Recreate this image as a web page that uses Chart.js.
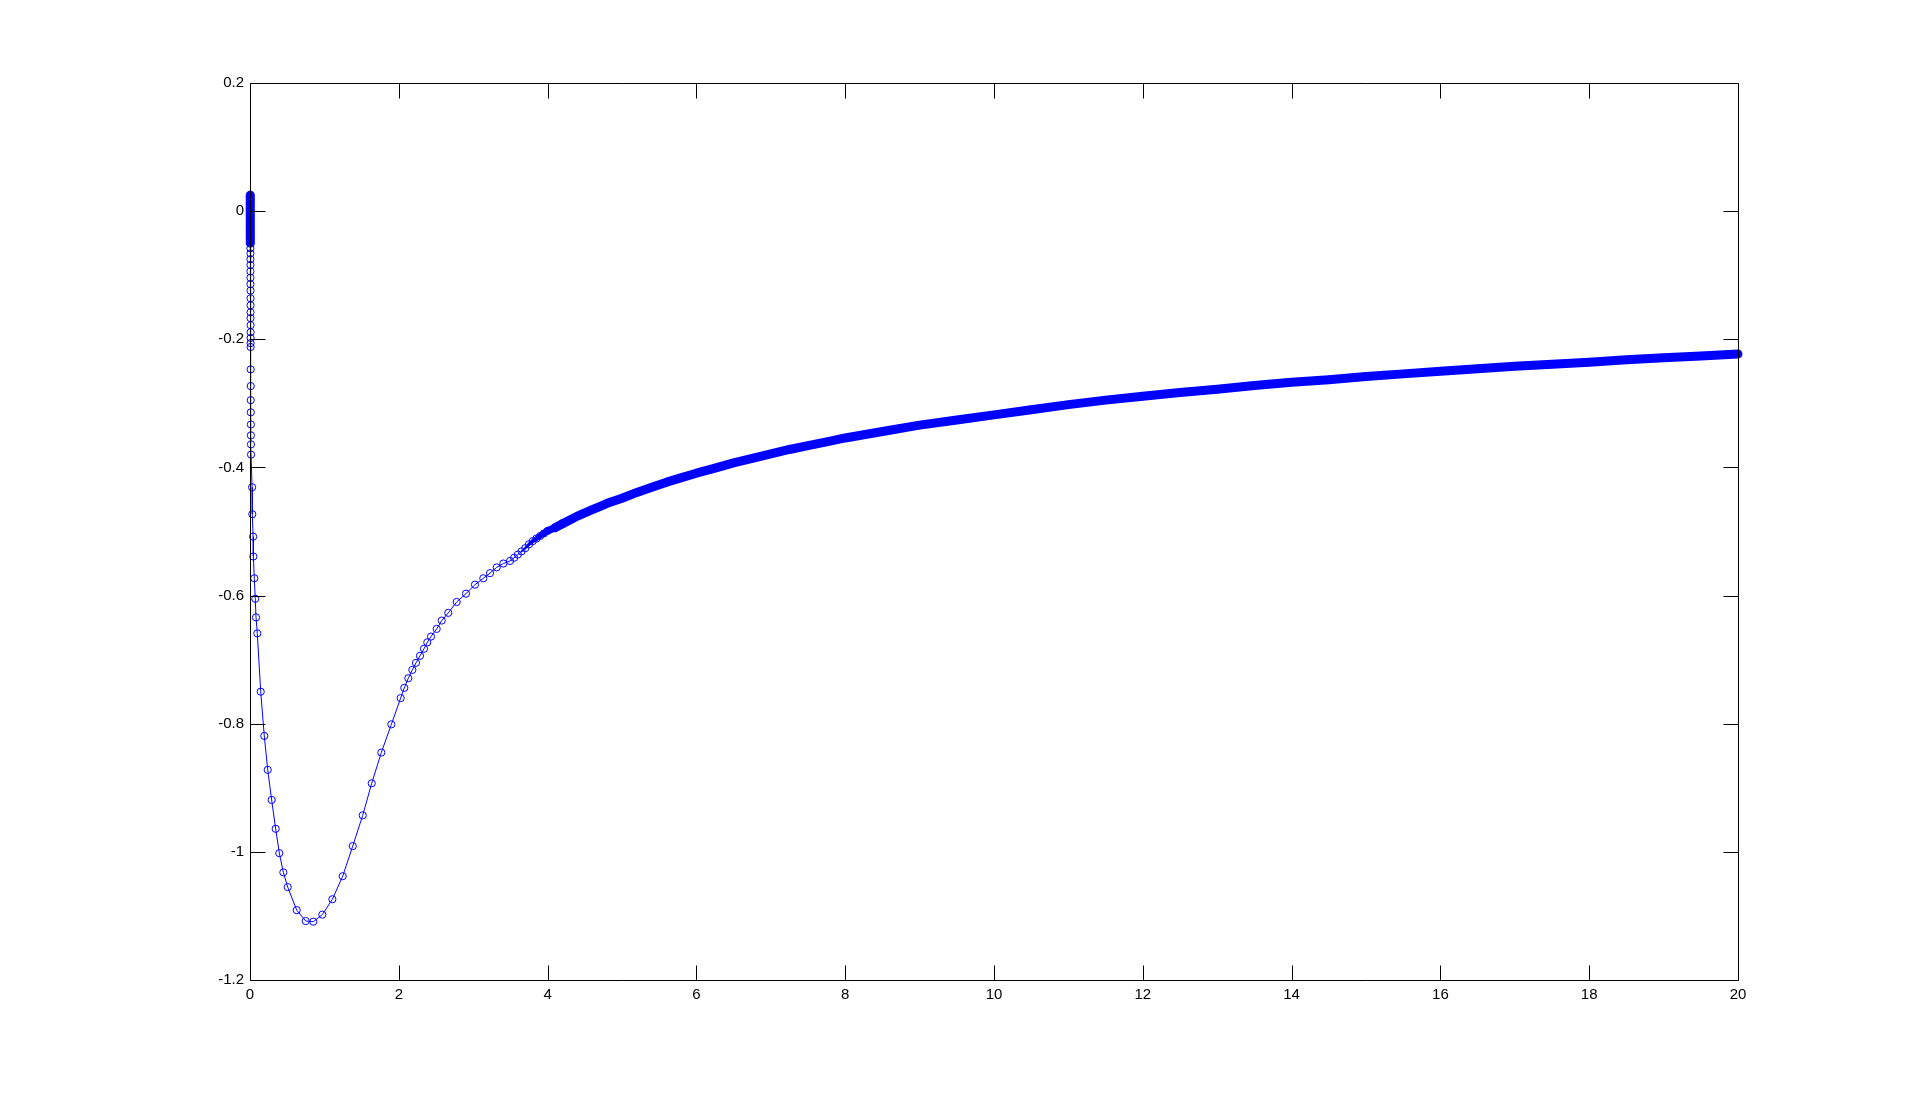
<!DOCTYPE html>
<html>
<head>
<meta charset="utf-8">
<script src="https://cdn.jsdelivr.net/npm/chart.js@4/dist/chart.umd.min.js"></script>
<style>
html,body{margin:0;padding:0;background:#fff;}
canvas{display:block;}
</style>
</head>
<body>
<canvas id="c" width="1920" height="1101"></canvas>
<script>
// Tick labels
const xTicks = [0, 2, 4, 6, 8, 10, 12, 14, 16, 18, 20];
const yTicks = [-1.2, -1, -0.8, -0.6, -0.4, -0.2, 0, 0.2];

// Near x = 0 (steep wall)
const xNear = [0.003,0.003,0.003,0.003,0.004,0.004,0.004,0.004,0.004,0.005,0.005,0.005,0.005,0.005,0.006,0.006,0.006,0.006,0.006,0.006,0.007,0.007,0.007,0.007,0.007,0.008,0.008,0.008,0.008,0.008,0.009,0.010,0.010,0.011,0.012,0.012,0.013,0.014,0.028,0.031,0.042,0.045,0.058,0.071,0.081,0.098];
const yNear = [0.025,0.018,0.012,0.006,0.000,-0.006,-0.012,-0.018,-0.024,-0.030,-0.036,-0.042,-0.050,-0.058,-0.066,-0.075,-0.084,-0.094,-0.104,-0.114,-0.124,-0.136,-0.147,-0.158,-0.167,-0.178,-0.189,-0.198,-0.206,-0.212,-0.247,-0.273,-0.295,-0.314,-0.333,-0.350,-0.364,-0.380,-0.431,-0.473,-0.508,-0.539,-0.573,-0.605,-0.634,-0.659];

// Potential well
const xWell = [0.144,0.192,0.238,0.291,0.345,0.394,0.448,0.507,0.628,0.749,0.851,0.972,1.107,1.246,1.381,1.515,1.636,1.765,1.900,2.025,2.074,2.128,2.182,2.231,2.285,2.339,2.383,2.433,2.509,2.577,2.665,2.778,2.903,3.024,3.136,3.226,3.316,3.405,3.495];
const yWell = [-0.750,-0.819,-0.872,-0.919,-0.964,-1.002,-1.032,-1.055,-1.091,-1.108,-1.109,-1.098,-1.074,-1.038,-0.991,-0.943,-0.893,-0.845,-0.801,-0.760,-0.744,-0.729,-0.716,-0.705,-0.694,-0.683,-0.673,-0.664,-0.652,-0.639,-0.627,-0.610,-0.597,-0.583,-0.573,-0.565,-0.556,-0.550,-0.546];

// Long tail
const xTail = [3.55,3.6,3.65,3.7,3.75,3.8,3.85,3.9,3.95,4.0,4.1,4.2,4.3,4.4,4.5,4.6,4.7,4.8,4.9,5.0,5.2,5.4,5.6,5.8,6.0,6.25,6.5,6.75,7.0,7.25,7.5,7.75,8.0,8.5,9.0,9.5,10.0,10.5,11.0,11.5,12.0,12.5,13.0,13.5,14.0,14.5,15.0,15.5,16.0,16.5,17.0,17.5,18.0,18.5,19.0,19.5,20.0];
const yTail = [-0.541,-0.536,-0.531,-0.526,-0.520,-0.515,-0.511,-0.507,-0.503,-0.499,-0.494,-0.488,-0.482,-0.476,-0.471,-0.466,-0.461,-0.456,-0.452,-0.448,-0.439,-0.431,-0.423,-0.416,-0.409,-0.401,-0.393,-0.386,-0.379,-0.372,-0.366,-0.360,-0.354,-0.344,-0.334,-0.326,-0.318,-0.310,-0.302,-0.295,-0.289,-0.283,-0.278,-0.272,-0.267,-0.263,-0.258,-0.254,-0.250,-0.246,-0.242,-0.239,-0.236,-0.232,-0.229,-0.226,-0.223];

const xs = xNear.concat(xWell, xTail);
const ys = yNear.concat(yWell, yTail);
const points = xs.map((x, i) => ({x: x, y: ys[i]}));

const BLUE = '#0000ff';
const FONT = {family: '"Liberation Sans", Arial, Helvetica, sans-serif', size: 15};

const boxPlugin = {
  id: 'matlabBox',
  afterDatasetsDraw(chart) {
    const {ctx, chartArea: a, scales} = chart;
    const L = Math.round(a.left) + 0.5, R = Math.round(a.right) + 0.5;
    const T = Math.round(a.top) + 0.5, B = Math.round(a.bottom) + 0.5;
    const tl = 15;
    ctx.save();
    ctx.strokeStyle = '#000';
    ctx.lineWidth = 1;
    ctx.beginPath();
    ctx.rect(L, T, R - L, B - T);
    xTicks.forEach(v => {
      const px = Math.round(scales.x.getPixelForValue(v)) + 0.5;
      ctx.moveTo(px, B); ctx.lineTo(px, B - tl);
      ctx.moveTo(px, T); ctx.lineTo(px, T + tl);
    });
    yTicks.forEach(v => {
      const py = Math.round(scales.y.getPixelForValue(v)) + 0.5;
      ctx.moveTo(L, py); ctx.lineTo(L + tl, py);
      ctx.moveTo(R, py); ctx.lineTo(R - tl, py);
    });
    ctx.stroke();
    ctx.restore();
  }
};

new Chart(document.getElementById('c'), {
  type: 'scatter',
  data: {
    datasets: [{
      data: points,
      showLine: true,
      borderColor: BLUE,
      borderWidth: 1,
      pointStyle: 'circle',
      pointRadius: 3.6,
      pointBorderWidth: 1,
      pointBorderColor: BLUE,
      pointBackgroundColor: 'rgba(0,0,0,0)',
      pointHoverRadius: 3.6,
      clip: false,
      tension: 0,
      borderCapStyle: 'round',
      borderJoinStyle: 'round',
      segment: {
        borderWidth: c => {
          const x = c.p0.parsed.x, y = c.p0.parsed.y;
          if (x < 0.05 && y > -0.045) return 9;
          if (x < 3.6) return 1;
          return Math.min(9, 1 + (x - 3.6) * 16);
        }
      }
    }]
  },
  options: {
    responsive: false,
    animation: false,
    devicePixelRatio: 1,
    layout: {padding: {left: 190, right: 182, top: 83, bottom: 91}},
    plugins: {legend: {display: false}, tooltip: {enabled: false}},
    scales: {
      x: {
        type: 'linear',
        min: 0, max: 20,
        afterBuildTicks: s => { s.ticks = xTicks.map(v => ({value: v})); },
        afterFit: s => { s.height = 30; },
        grid: {display: false, drawTicks: false},
        border: {display: false},
        ticks: {color: '#000', font: FONT, padding: 6, maxRotation: 0, autoSkip: false,
                callback: v => String(v)}
      },
      y: {
        type: 'linear',
        min: -1.2, max: 0.2,
        afterBuildTicks: s => { s.ticks = yTicks.map(v => ({value: v})); },
        afterFit: s => { s.width = 60; },
        grid: {display: false, drawTicks: false},
        border: {display: false},
        ticks: {color: '#000', font: FONT, padding: 6, autoSkip: false,
                callback: v => String(Number(v.toFixed(1)))}
      }
    }
  },
  plugins: [boxPlugin]
});
</script>
</body>
</html>
